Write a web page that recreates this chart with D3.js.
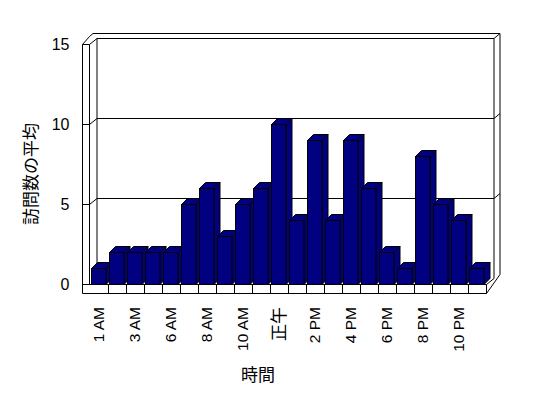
<!DOCTYPE html>
<html><head><meta charset="utf-8">
<script src="https://cdn.jsdelivr.net/npm/d3@7"></script>
<style>
html,body{margin:0;padding:0;background:#fff;}
svg{display:block;}
text{font-family:"Liberation Sans","Noto Sans CJK JP",sans-serif;fill:#000;}
</style></head>
<body>
<svg id="chart" width="548" height="398"></svg>
<script>
const categories = ["1 AM","2 AM","3 AM","5 AM","6 AM","7 AM","8 AM","9 AM","10 AM","11 AM","正午",
  "1 PM","2 PM","3 PM","4 PM","5 PM","6 PM","7 PM","8 PM","9 PM","10 PM","11 PM"];
const values = [1,2,2,2,2,5,6,3,5,6,10,4,9,4,9,6,2,1,8,5,4,1];
const shownLabels = ["1 AM","3 AM","6 AM","8 AM","10 AM","正午","2 PM","4 PM","6 PM","8 PM","10 PM"];
const yTicks = [0,5,10,15];
const yTitle = "訪問数の平均";
const xTitle = "時間";

const svg = d3.select("#chart");
const x = d3.scaleBand().domain(categories).range([90.5, 486.5]).padding(0);
const y = d3.scaleLinear().domain([0, 15]).range([284.5, 44.5]);
const wallDX = 7.5, wallDY = -6;   // depth of floor (front -> back wall)
const thickDX = 6, thickDY = -5;   // back wall thickness
const leftOuter = 82.5, leftInner = 89.5;
const backL = leftInner + wallDX, backR = 486.5 + wallDX;
const floorBottom = 293.5;

const g = svg.append("g").attr("fill", "none").attr("stroke", "#000").attr("stroke-width", 1);

// outer outline
g.append("path").attr("d",
  `M${leftOuter},${floorBottom} V${y(15)} L${leftOuter+7},${y(15)+wallDY-2} L${backL-4},${y(15)+wallDY+thickDY} H${backR+thickDX} V${y(0)+wallDY+thickDY+1} L486.5,${floorBottom} Z`);
// left wall front face top + inner edge
g.append("path").attr("d", `M${leftOuter},${y(15)} H${leftInner} V${y(0)}`);
// top of left wall to back wall inner top
g.append("path").attr("d", `M${leftInner},${y(15)} L${backL},${y(15)+wallDY} H${backR} V${y(0)+wallDY}`);
g.append("path").attr("d", `M${backR},${y(15)+wallDY} l${thickDX},${thickDY}`);
g.append("path").attr("d", `M${backL},${y(15)+wallDY} V${y(0)+wallDY}`);
// floor front face
g.append("path").attr("d", `M${leftOuter},${y(0)} H486.5 V${floorBottom}`);
g.append("path").attr("d", `M486.5,${y(0)} L${backR},${y(0)+wallDY}`);
// floor ticks at band boundaries
categories.slice(1).forEach(c => {
  g.append("line").attr("x1", x(c)).attr("x2", x(c)).attr("y1", y(0)).attr("y2", floorBottom);
});
// gridlines
yTicks.filter(v => v > 0 && v < 15).forEach(v => {
  g.append("path").attr("d",
    `M${leftOuter},${y(v)} H${leftInner} L${backL},${y(v)+wallDY} H${backR} l${thickDX},${thickDY}`);
});

// bars
const bw = x.bandwidth() - 3.5, bdx = 6, bdy = -6;
const bars = svg.append("g").attr("fill", "#000080").attr("stroke", "#000").attr("stroke-width", 1)
  .attr("stroke-linejoin", "miter");
categories.forEach((c, i) => {
  const x0 = x(c) + 1, x1 = x0 + bw, yt = y(values[i]), yb = y(0);
  const bg = bars.append("g");
  bg.append("path").attr("d", `M${x1},${yb} L${x1+bdx},${yb+bdy} V${yt+bdy} L${x1},${yt} Z`);
  bg.append("path").attr("d", `M${x0},${yt} L${x0+bdx},${yt+bdy} H${x1+bdx} L${x1},${yt} Z`);
  bg.append("rect").attr("x", x0).attr("y", yt).attr("width", bw).attr("height", yb - yt);
});

// y tick labels
svg.append("g").selectAll("text").data(yTicks).join("text")
  .attr("x", 69.5).attr("y", d => y(d)).attr("dy", "0.36em")
  .attr("text-anchor", "end").style("font-size", "16px").text(d => d);

// x tick labels
svg.append("g").selectAll("text").data(shownLabels).join("text")
  .attr("transform", d => `translate(${x(d) + x.bandwidth()/2 - 1},307) rotate(-90)`)
  .attr("dy", "0.36em").attr("text-anchor", "end")
  .style("font-size", d => /[^\x00-\x7f]/.test(d) ? "17px" : "15.5px")
  .style("font-family", d => /[^\x00-\x7f]/.test(d) ? "'Noto Sans CJK JP'" : null)
  .text(d => d);

// axis titles
svg.append("text").attr("transform", "translate(31,174) rotate(-90)")
  .attr("text-anchor", "middle").attr("dy", "0.36em")
  .style("font-family", "'Noto Sans CJK JP'").style("font-size", "17px").text(yTitle);
svg.append("text").attr("x", 258).attr("y", 375).attr("dy", "0.36em")
  .attr("text-anchor", "middle")
  .style("font-family", "'Noto Sans CJK JP'").style("font-size", "17px").text(xTitle);
</script>
</body></html>
